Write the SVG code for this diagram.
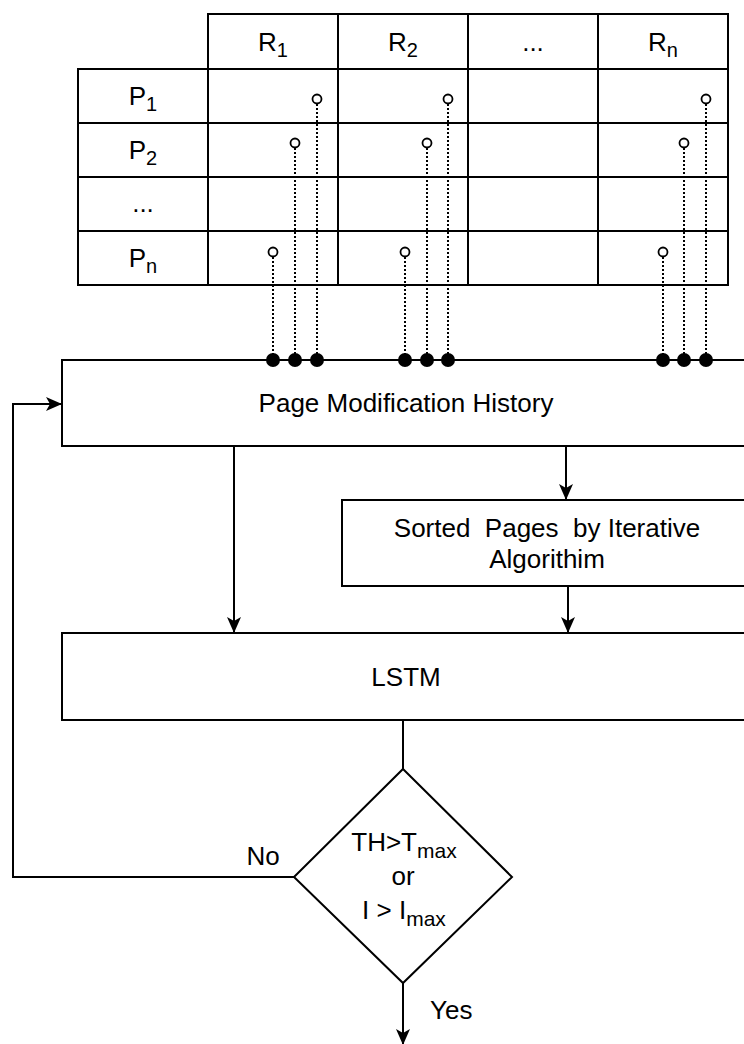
<svg xmlns="http://www.w3.org/2000/svg" width="744" height="1044" viewBox="0 0 744 1044">
<style>
.box{fill:#fff;stroke:#000;stroke-width:2}
.cell{fill:none;stroke:#000;stroke-width:2}
.t{font-family:"Liberation Sans",Arial,sans-serif;font-size:26px;fill:#000;text-anchor:middle}
.lbl{font-family:"Liberation Sans",Arial,sans-serif;font-size:26px;fill:#000}
.ln{fill:none;stroke:#000;stroke-width:2}
.dot{fill:none;stroke:#000;stroke-width:2;stroke-dasharray:2 2}
.oc{fill:#fff;stroke:#000;stroke-width:1.8}
.fc{fill:#000;stroke:none}
</style>
<defs>
<marker id="arr" markerUnits="userSpaceOnUse" markerWidth="17" markerHeight="15" refX="16" refY="7" orient="auto">
<path d="M0,0 L16,7 L0,14 L4,7 Z" fill="#000"/>
</marker>
</defs>
<rect width="744" height="1044" fill="#fff"/>
<g id="table">
<rect class="cell" x="208" y="14" width="130" height="55"/>
<rect class="cell" x="338" y="14" width="130" height="55"/>
<rect class="cell" x="468" y="14" width="130" height="55"/>
<rect class="cell" x="598" y="14" width="130" height="55"/>
<rect class="cell" x="78" y="69" width="650" height="216"/>
<path class="cell" d="M78,123 H728 M78,177 H728 M78,231 H728 M208,69 V285 M338,69 V285 M468,69 V285 M598,69 V285"/>
<text class="t" x="273" y="51">R<tspan font-size="20" dy="6">1</tspan></text>
<text class="t" x="403" y="51">R<tspan font-size="20" dy="6">2</tspan></text>
<text class="t" x="533" y="51">...</text>
<text class="t" x="663" y="51">R<tspan font-size="20" dy="6">n</tspan></text>
<text class="t" x="143" y="105">P<tspan font-size="20" dy="6">1</tspan></text>
<text class="t" x="143" y="159">P<tspan font-size="20" dy="6">2</tspan></text>
<text class="t" x="143" y="212">...</text>
<text class="t" x="143" y="267">P<tspan font-size="20" dy="6">n</tspan></text>
</g>
<g id="connectors">
<path class="dot" d="M317,104 V360 M448,104 V360 M706,104 V360 M295,148 V360 M427,148 V360 M684,148 V360 M273,257 V360 M405,257 V360 M663,257 V360"/>
<circle class="oc" cx="317" cy="99" r="4.5"/>
<circle class="oc" cx="448" cy="99" r="4.5"/>
<circle class="oc" cx="706" cy="99" r="4.5"/>
<circle class="oc" cx="295" cy="143" r="4.5"/>
<circle class="oc" cx="427" cy="143" r="4.5"/>
<circle class="oc" cx="684" cy="143" r="4.5"/>
<circle class="oc" cx="273" cy="252" r="4.5"/>
<circle class="oc" cx="405" cy="252" r="4.5"/>
<circle class="oc" cx="663" cy="252" r="4.5"/>
<path class="ln" d="M234,446 V633" marker-end="url(#arr)"/>
<path class="ln" d="M566,446 V500" marker-end="url(#arr)"/>
<path class="ln" d="M568,586 V633" marker-end="url(#arr)"/>
<path class="ln" d="M403,720 V769"/>
<path class="ln" d="M403,983 V1045" marker-end="url(#arr)"/>
<path class="ln" d="M294,877 H13 V404 H62" marker-end="url(#arr)"/>
<text class="lbl" x="263" y="865" text-anchor="middle">No</text>
<text class="lbl" x="430" y="1019">Yes</text>
</g>
<g id="pmh">
<rect class="box" x="62" y="360" width="690" height="86"/>
<text class="t" x="406" y="412">Page Modification History</text>
</g>
<g id="dots">
<circle class="fc" cx="273" cy="360" r="7"/>
<circle class="fc" cx="295" cy="360" r="7"/>
<circle class="fc" cx="317" cy="360" r="7"/>
<circle class="fc" cx="405" cy="360" r="7"/>
<circle class="fc" cx="427" cy="360" r="7"/>
<circle class="fc" cx="448" cy="360" r="7"/>
<circle class="fc" cx="663" cy="360" r="7"/>
<circle class="fc" cx="684" cy="360" r="7"/>
<circle class="fc" cx="706" cy="360" r="7"/>
</g>
<g id="sorted">
<rect class="box" x="342" y="500" width="410" height="86"/>
<text class="t" x="547" y="537" xml:space="preserve">Sorted  Pages  by Iterative</text>
<text class="t" x="547" y="568">Algorithim</text>
</g>
<g id="lstm">
<rect class="box" x="62" y="633" width="690" height="87"/>
<text class="t" x="406" y="686">LSTM</text>
</g>
<g id="decision">
<path class="box" d="M403,769 L512,877 L403,983 L294,877 Z"/>
<text class="t" x="404" y="851">TH&gt;T<tspan font-size="21" dy="7">max</tspan></text>
<text class="t" x="403" y="885">or</text>
<text class="t" x="404" y="919">I &gt; I<tspan font-size="21" dy="7">max</tspan></text>
</g>
</svg>
